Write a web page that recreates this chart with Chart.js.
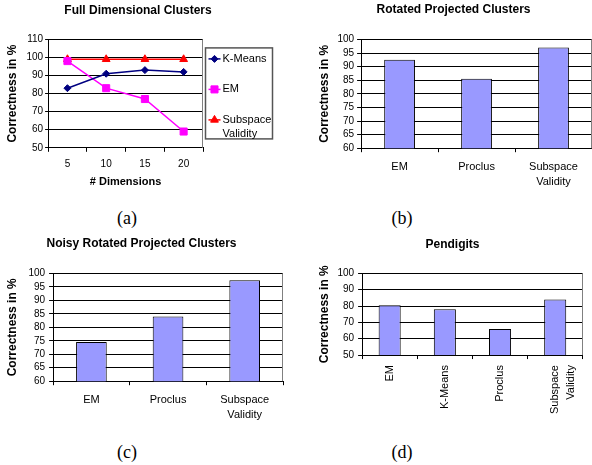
<!DOCTYPE html>
<html lang="en">
<head>
    <meta charset="UTF-8">
    <title>Clustering Correctness</title>
    <script src="https://cdn.jsdelivr.net/npm/chart.js"></script>
    <style>
        body {
            margin: 0;
            background-color: #ffffff;
        }

        #page {
            position: relative;
            width: 592px;
            height: 465px;
            overflow: hidden;
            background-color: #ffffff;
        }

        #page canvas {
            position: absolute;
        }

        /* (a) (b) (c) (d) under each chart */
        .caption {
            position: absolute;
            width: 40px;
            margin-left: -20px;
            text-align: center;
            font-family: 'Liberation Serif', 'Times New Roman', serif;
            font-size: 18px;
            line-height: 20px;
            color: #000;
        }
    </style>
</head>
<body>
    <div id="page">
        <canvas id="fullChart" width="276" height="191" style="left:0px; top:0px;"></canvas>
        <canvas id="rotatedChart" width="277" height="197" style="left:315px; top:0px;"></canvas>
        <canvas id="noisyChart" width="285" height="200" style="left:0px; top:230px;"></canvas>
        <canvas id="pendigitsChart" width="279" height="195" style="left:313px; top:230px;"></canvas>

        <div class="caption" style="left:127px; top:208px;">(a)</div>
        <div class="caption" style="left:402px; top:208px;">(b)</div>
        <div class="caption" style="left:127px; top:442px;">(c)</div>
        <div class="caption" style="left:402px; top:442px;">(d)</div>
    </div>

    <script>
        // (a) Full Dimensional Clusters
        const dimensions = ['5', '10', '15', '20'];
        const kmeansFull = [83, 91, 93, 92];
        const emFull = [98, 83, 77, 59];
        const subspaceFull = [99, 99, 99, 99];

        // (b) Rotated Projected Clusters
        const rotatedLabels = ['EM', 'Proclus', ['Subspace', 'Validity']];
        const rotatedValues = [92.5, 85.5, 97];

        // (c) Noisy Rotated Projected Clusters
        const noisyLabels = ['EM', 'Proclus', ['Subspace', 'Validity']];
        const noisyValues = [74.5, 84, 97.5];

        // (d) Pendigits
        const pendigitsLabels = ['EM', 'K-Means', 'Proclus', ['Subspace', 'Validity']];
        const pendigitsValues = [80.5, 78, 66, 84];

        const barFill = '#9999ff';

        Chart.defaults.font.family = "'Liberation Sans', Arial, sans-serif";
        Chart.defaults.color = '#000';
        Chart.defaults.animation = false;
        Chart.defaults.plugins.legend.display = false;
        Chart.defaults.plugins.tooltip.enabled = false;

        // grey frame line on the right side of the plot area
        const frameRight = {
            id: 'frameRight',
            afterDraw(chart) {
                const a = chart.chartArea;
                const ctx = chart.ctx;
                const x = Math.round(a.right) - 0.5;
                ctx.save();
                ctx.strokeStyle = '#808080';
                ctx.lineWidth = 1;
                ctx.beginPath();
                ctx.moveTo(x, a.top);
                ctx.lineTo(x, a.bottom);
                ctx.stroke();
                ctx.restore();
            }
        };

        // boxed legend to the right of the line chart, long names wrap
        const boxLegend = {
            id: 'boxLegend',
            afterDraw(chart) {
                const ctx = chart.ctx;
                const a = chart.chartArea;
                const left = a.right + 2.5;
                const top = a.top + 8.5;
                const w = 67, h = 91;

                ctx.save();
                ctx.strokeStyle = '#555';
                ctx.lineWidth = 1.5;
                ctx.strokeRect(left, top, w, h);

                ctx.font = "11px 'Liberation Sans', Arial, sans-serif";
                ctx.textBaseline = 'middle';
                ctx.textAlign = 'left';
                const textX = left + 17;
                const maxW = left + w - textX - 1;

                chart.data.datasets.forEach((ds, i) => {
                    const y = top + 11 + i * 30.5;

                    ctx.strokeStyle = ds.borderColor;
                    ctx.lineWidth = ds.borderWidth;
                    ctx.beginPath();
                    ctx.moveTo(left + 3, y);
                    ctx.lineTo(left + 15, y);
                    ctx.stroke();

                    ctx.fillStyle = ds.backgroundColor;
                    ctx.strokeStyle = ds.borderColor;
                    ctx.lineWidth = 1;
                    Chart.helpers.drawPoint(ctx, {
                        pointStyle: ds.pointStyle,
                        radius: ds.pointRadius,
                        rotation: 0,
                        borderWidth: 1
                    }, left + 9, y);

                    // simple word wrap
                    const words = ds.label.split(' ');
                    const lines = [];
                    let line = '';
                    words.forEach(word => {
                        const test = line ? line + ' ' + word : word;
                        if (line && ctx.measureText(test).width > maxW) {
                            lines.push(line);
                            line = word;
                        } else {
                            line = test;
                        }
                    });
                    lines.push(line);

                    ctx.fillStyle = '#000';
                    lines.forEach((l, j) => ctx.fillText(l, textX, y + j * 14));
                });
                ctx.restore();
            }
        };

        function titleOpts(text, padTop, padBottom) {
            return {
                display: true,
                text: text,
                font: { size: 12, weight: 'bold' },
                padding: { top: padTop, bottom: padBottom }
            };
        }

        function yAxis(min, max, step, titlePad, tickLen, tickPad) {
            return {
                min: min,
                max: max,
                ticks: { stepSize: step, autoSkip: false, font: { size: 10 }, padding: tickPad },
                grid: { color: '#000', lineWidth: 1, tickLength: tickLen },
                border: { color: '#000', width: 1 },
                title: {
                    display: true,
                    text: 'Correctness in %',
                    font: { size: 12, weight: 'bold' },
                    padding: titlePad
                }
            };
        }

        function xBarAxis(rotate) {
            return {
                offset: true,
                ticks: {
                    font: { size: 11, lineHeight: 1.4 },
                    padding: rotate ? 6 : 7,
                    autoSkip: false,
                    minRotation: rotate ? 90 : 0,
                    maxRotation: rotate ? 90 : 0
                },
                grid: { offset: true, drawOnChartArea: false, color: '#000', tickLength: 4 },
                border: { color: '#000', width: 1 }
            };
        }

        function barDataset(values) {
            return {
                data: values,
                backgroundColor: barFill,
                borderColor: '#000',
                borderWidth: 1,
                borderSkipped: false,
                categoryPercentage: 1.0,
                barPercentage: 0.4
            };
        }

        // (a)
        new Chart(document.getElementById('fullChart'), {
            type: 'line',
            data: {
                labels: dimensions,
                datasets: [
                    {
                        label: 'K-Means',
                        data: kmeansFull,
                        borderColor: '#000080',
                        backgroundColor: '#000080',
                        borderWidth: 1.5,
                        pointStyle: 'rectRot',
                        pointRadius: 3.5,
                        pointBorderWidth: 1
                    },
                    {
                        label: 'EM',
                        data: emFull,
                        borderColor: '#ff00ff',
                        backgroundColor: '#ff00ff',
                        borderWidth: 1.5,
                        pointStyle: 'rect',
                        pointRadius: 5,
                        pointBorderWidth: 1
                    },
                    {
                        label: 'Subspace Validity',
                        data: subspaceFull,
                        borderColor: '#ff0000',
                        backgroundColor: '#ff0000',
                        borderWidth: 1.5,
                        pointStyle: 'triangle',
                        pointRadius: 4.5,
                        pointBorderWidth: 1
                    }
                ]
            },
            options: {
                responsive: false,
                layout: { padding: 0 },
                plugins: {
                    title: titleOpts('Full Dimensional Clusters', 3, 22)
                },
                scales: {
                    x: {
                        offset: true,
                        ticks: { font: { size: 10 }, padding: 6 },
                        grid: { offset: true, drawOnChartArea: false, color: '#000', tickLength: 4 },
                        border: { color: '#000', width: 1 },
                        title: {
                            display: true,
                            text: '# Dimensions',
                            font: { size: 11, weight: 'bold' },
                            padding: { top: 0, bottom: 2 }
                        }
                    },
                    y: yAxis(50, 110, 10, { top: 5, bottom: 5 }, 3, 2),
                    // empty axis that only keeps room for the boxed legend,
                    // so the title still centres over the whole canvas
                    legendRoom: {
                        type: 'linear',
                        position: 'right',
                        grid: { display: false },
                        ticks: { display: false },
                        border: { display: false },
                        afterFit(scale) {
                            scale.width = 73;
                        }
                    }
                }
            },
            plugins: [frameRight, boxLegend]
        });

        // (b)
        new Chart(document.getElementById('rotatedChart'), {
            type: 'bar',
            data: {
                labels: rotatedLabels,
                datasets: [barDataset(rotatedValues)]
            },
            options: {
                responsive: false,
                layout: { padding: 0 },
                plugins: {
                    title: titleOpts('Rotated Projected Clusters', 2, 23)
                },
                scales: {
                    x: xBarAxis(false),
                    y: yAxis(60, 100, 5, { top: 2, bottom: 3 }, 4, 3)
                }
            },
            plugins: [frameRight]
        });

        // (c)
        new Chart(document.getElementById('noisyChart'), {
            type: 'bar',
            data: {
                labels: noisyLabels,
                datasets: [barDataset(noisyValues)]
            },
            options: {
                responsive: false,
                layout: { padding: { left: 0, right: 2, top: 0, bottom: 0 } },
                plugins: {
                    title: titleOpts('Noisy Rotated Projected Clusters', 6, 23)
                },
                scales: {
                    x: xBarAxis(false),
                    y: yAxis(60, 100, 5, { top: 5, bottom: 5 }, 4, 4)
                }
            },
            plugins: [frameRight]
        });

        // (d)
        new Chart(document.getElementById('pendigitsChart'), {
            type: 'bar',
            data: {
                labels: pendigitsLabels,
                datasets: [barDataset(pendigitsValues)]
            },
            options: {
                responsive: false,
                layout: { padding: { left: 0, right: 0, top: 0, bottom: 5 } },
                plugins: {
                    title: titleOpts('Pendigits', 7, 22)
                },
                scales: {
                    x: xBarAxis(true),
                    y: yAxis(50, 100, 10, { top: 4, bottom: 2 }, 4, 4)
                }
            },
            plugins: [frameRight]
        });
    </script>
</body>
</html>
